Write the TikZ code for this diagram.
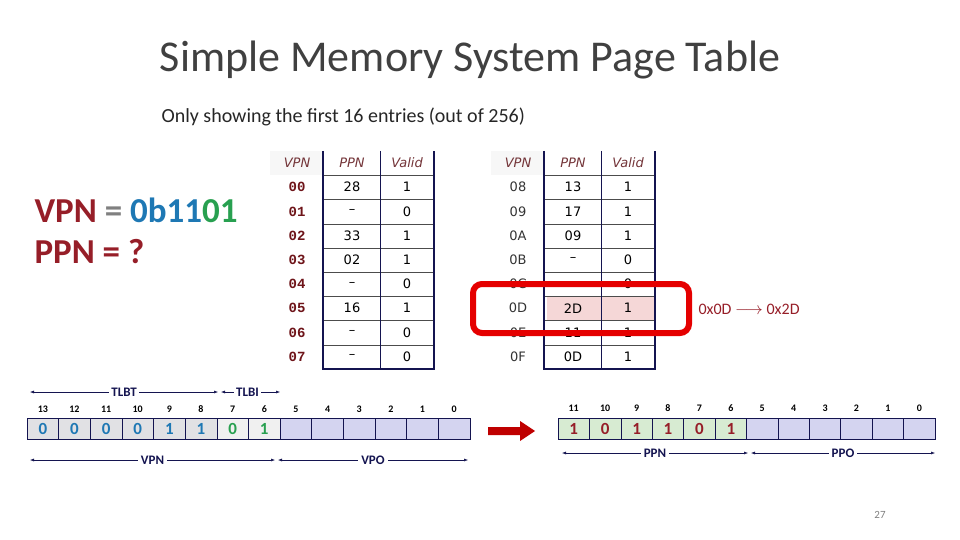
\documentclass[tikz,border=0pt]{standalone}
\usepackage{fontspec}
\setmainfont{Carlito}
\newfontfamily\tabf{DejaVu Sans}
\newfontfamily\monob{Liberation Mono}
\usetikzlibrary{arrows.meta}
\definecolor{dred}{RGB}{150,30,40}
\definecolor{vred}{RGB}{110,20,25}
\definecolor{navy}{RGB}{20,20,80}
\definecolor{bblue}{RGB}{30,120,180}
\definecolor{bgreen}{RGB}{40,160,80}
\definecolor{cellgray}{RGB}{225,225,228}
\definecolor{celllg}{RGB}{240,240,240}
\definecolor{celllav}{RGB}{212,212,240}
\definecolor{cellgreen}{RGB}{215,235,210}
\definecolor{hl}{RGB}{245,215,215}
\begin{document}
\begin{tikzpicture}[x=1pt,y=-1pt,
  cell/.style={font=\tabf\fontsize{13}{14}\selectfont},
  hdr/.style={font=\tabf\itshape\fontsize{13}{14}\selectfont,text=vred!70!gray},
  vs1/.style={font=\monob\bfseries\fontsize{14}{14}\selectfont,text=vred},
  vs2/.style={font=\tabf\fontsize{13}{14}\selectfont,text=black!80},
  bitn/.style={font=\bfseries\fontsize{10}{11}\selectfont},
  bit/.style={font=\bfseries\fontsize{17}{18}\selectfont},
  lab/.style={font=\bfseries\fontsize{13}{14}\selectfont},
  dim/.style={navy,{Latex[length=4pt,width=3pt]}-{Latex[length=4pt,width=3pt]},line width=0.5pt}]
\useasboundingbox (0,0) rectangle (960,540);
\node[font=\fontsize{44}{48}\selectfont,text=black!75] (title) at (470,60) {Simple Memory System Page Table};
\node[anchor=west,font=\fontsize{20}{22}\selectfont,text=black!85] (sub) at (158,117) {Only showing the first 16 entries (out of 256)};
\node[anchor=west,font=\bfseries\fontsize{35}{38}\selectfont] (q1) at (31,210) {\textcolor{dred}{VPN} \textcolor{gray}{=} \textcolor{bblue}{0b11}\textcolor{bgreen}{01}};
\node[anchor=west,font=\bfseries\fontsize{35}{38}\selectfont,text=dred] (q2) at (31,252) {PPN = ?};
% tables
\fill[hl] (547,296.5) rectangle (655,320.5);
\foreach \xo/\vp/\pp/\va [count=\tb] in {0/{00,01,02,03,04,05,06,07}/{28,–,33,02,–,16,–,–}/{1,0,1,1,0,1,0,0},221/{08,09,0A,0B,0C,0D,0E,0F}/{13,17,09,–,,2D,11,0D}/{1,1,1,0,0,1,1,1}}{
  \fill[black!3] (\xo+270,151) rectangle (\xo+323,175);
  \node[hdr] (h\tb a) at (\xo+297,163) {VPN};
  \node[hdr] (h\tb b) at (\xo+352,163) {PPN};
  \node[hdr] (h\tb c) at (\xo+407,163) {Valid};
  \foreach \k in {0,...,7}{ \draw[black!70,line width=0.5pt] (\xo+323,175.5+24.2*\k) -- (\xo+434,175.5+24.2*\k);}
  \draw[navy,line width=1.5pt] (\xo+323,151) -- (\xo+323,369) -- (\xo+434,369) -- (\xo+434,151);
  \draw[navy,line width=0.8pt] (\xo+380,151) -- (\xo+380,369);
  \foreach \v [count=\i] in \vp { \node[vs\tb] (v\tb-\i) at (\xo+297,163+24.2*\i) {\v}; }
  \foreach \v [count=\i] in \pp { \node[cell] (p\tb-\i) at (\xo+352,163+24.2*\i) {\v}; }
  \foreach \v [count=\i] in \va { \node[cell] (a\tb-\i) at (\xo+407,163+24.2*\i) {\v}; }
}
\draw[red!90!black,line width=6pt,rounded corners=9pt] (473,284) rectangle (689,333);
\node[anchor=west,font=\fontsize{16}{17}\selectfont,text=dred] (map) at (695,309) {0x0D $\longrightarrow$ 0x2D};
% left bit strip
\foreach \b [count=\i from 0] in {0,0,0,0,1,1,0,1,,,,,,}{
  \pgfmathsetmacro\xa{27+31.64*\i}
  \ifnum\i<6 \def\cc{cellgray}\else\ifnum\i<8 \def\cc{celllg}\else\def\cc{celllav}\fi\fi
  \ifnum\i<6 \def\tc{bblue}\else\def\tc{bgreen}\fi
  \draw[fill=\cc,draw=navy,line width=0.6pt] (\xa,418) rectangle ++(31.64,21);
  \node[bit,text=\tc] at (\xa+15.82,429) {\b};
  \pgfmathtruncatemacro\n{13-\i}
  \node[bitn] at (\xa+15.82,409) {\n};
}
\draw[navy,line width=1pt] (27,418) rectangle (470,439);
\coordinate (t0) at (30,392); \coordinate (t1) at (218,392); \coordinate (t2) at (221,392); \coordinate (t3) at (280,392);
\draw[dim] (t0) -- node[fill=white,lab,inner sep=2pt] {TLBT} (t1);
\draw[dim] (t2) -- node[fill=white,lab,inner sep=2pt,pos=0.45] {TLBI} (t3);
\coordinate (u0) at (30,460); \coordinate (u1) at (275,460); \coordinate (u2) at (278,460); \coordinate (u3) at (468,460);
\draw[dim] (u0) -- node[fill=white,lab,inner sep=3pt] {VPN} (u1);
\draw[dim] (u2) -- node[fill=white,lab,inner sep=3pt] {VPO} (u3);
% red arrow
\fill[red!75!black] (488,427) -- (520,427) -- (520,421) -- (535,431) -- (520,441) -- (520,435) -- (488,435) -- cycle;
% right strip
\foreach \b [count=\i from 0] in {1,0,1,1,0,1,,,,,,}{
  \pgfmathsetmacro\xa{558+31.42*\i}
  \ifnum\i<6 \def\cc{cellgreen}\else\def\cc{celllav}\fi
  \draw[fill=\cc,draw=navy,line width=0.6pt] (\xa,418) rectangle ++(31.42,21);
  \node[bit,text=dred] at (\xa+15.71,429) {\b};
  \pgfmathtruncatemacro\n{11-\i}
  \node[bitn] at (\xa+15.71,408) {\n};
}
\draw[navy,line width=1pt] (558,418) rectangle (935,439);
\coordinate (w0) at (562,453); \coordinate (w1) at (748,453); \coordinate (w2) at (751,453); \coordinate (w3) at (935,453);
\draw[dim] (w0) -- node[fill=white,lab,inner sep=3pt] {PPN} (w1);
\draw[dim] (w2) -- node[fill=white,lab,inner sep=3pt] {PPO} (w3);
\node[font=\fontsize{11}{12}\selectfont,text=gray] (pg) at (880,515) {27};
\end{tikzpicture}
\end{document}
